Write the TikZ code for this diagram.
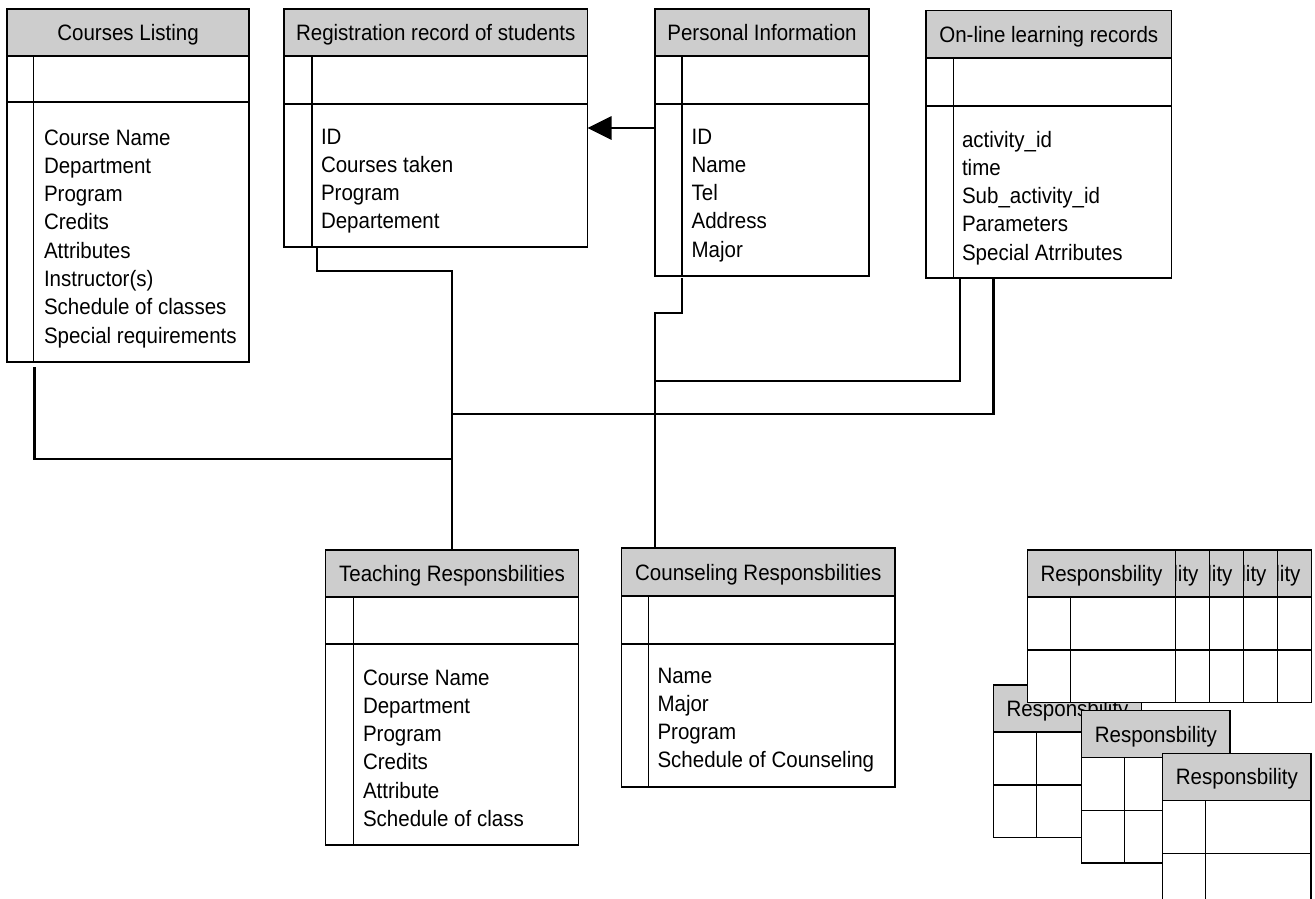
\documentclass[tikz,border=0pt]{standalone}
\usepackage{fontspec}
\setmainfont{Liberation Sans}[FakeStretch=0.92]
\usetikzlibrary{calc,arrows.meta}
\definecolor{hdrgray}{RGB}{205,205,205}
\newcommand{\fieldlist}[1]{\begin{tabular}[t]{@{}l@{}}#1\end{tabular}}
\tikzset{
  tbl/.style={draw, line width=1.3pt, fill=white, rectangle, inner sep=0pt, outer sep=0pt},
  hdr/.style={draw, line width=1.3pt, fill=hdrgray, rectangle, inner sep=0pt, outer sep=0pt, text height=16pt, text depth=0pt},
  tline/.style={line width=1.3pt},
  fields/.style={inner sep=0pt, outer sep=0pt, anchor=base west},
  conn/.style={line width=2.8pt},
}
% #1 name, #2 x, #3 y, #4 width, #5 height, #6 header height, #7 key row height, #8 inner column offset, #9 title
\newcommand{\entity}[9]{%
  \node[tbl, minimum width=#4, minimum height=#5, anchor=north west] (#1) at (#2,#3) {};
  \node[hdr, minimum width=#4, minimum height=#6, anchor=north west] (#1-h) at (#2,#3) {#9};
  \draw[tline] ($(#1-h.south west)+(0,#7)$) -- ($(#1-h.south east)+(0,#7)$);
  \draw[tline] ($(#1-h.south west)+(#8,0)$) -- ($(#1.south west)+(#8,0)$);
}
\newcommand{\resp}{\hspace*{4pt}Responsbility}
\begin{document}
\begin{tikzpicture}[x=1pt,y=-1pt,font=\fontsize{22.3}{28.3}\selectfont]
\useasboundingbox (0,0) rectangle (1315,899);

% main entities
\entity{cl}{7}{9}{242}{353}{47}{46}{26.7}{Courses Listing}
\node[fields] (cl-f) at (44,145) {\fieldlist{Course Name\\Department\\Program\\Credits\\Attributes\\Instructor(s)\\Schedule of classes\\Special requirements}};

\entity{reg}{284}{9}{303.5}{238}{47}{48}{28}{Registration record of students}
\node[fields] (reg-f) at (321,144) {\fieldlist{ID\\Courses taken\\Program\\Departement}};

\entity{pers}{655}{9}{214}{267}{47}{48}{27}{Personal Information}
\node[fields] (pers-f) at (691.6,144) {\fieldlist{ID\\Name\\Tel\\Address\\Major}};

\entity{onl}{926}{10.7}{245.6}{267.3}{47.3}{48}{27.6}{On-line learning records}
\node[fields] (onl-f) at (962,147) {\fieldlist{activity\_id\\time\\Sub\_activity\_id\\Parameters\\Special Atrributes}};

\entity{teach}{325.7}{550}{252.6}{295}{47}{47}{27.6}{Teaching Responsbilities}
\node[fields] (teach-f) at (363,685) {\fieldlist{Course Name\\Department\\Program\\Credits\\Attribute\\Schedule of class}};

\entity{couns}{621.6}{548}{273.4}{239}{48}{48}{26.8}{Counseling Responsbilities}
\node[fields] (couns-f) at (657.5,683) {\fieldlist{Name\\Major\\Program\\Schedule of Counseling}};

% stacked responsibility tables
\entity{rt2}{993.3}{685}{148.4}{152.3}{47}{53}{43}{Responsbility}
\entity{rE}{1163.3}{550}{148.4}{152.3}{47}{53}{43}{\resp}
\entity{rD}{1129.3}{550}{148.4}{152.3}{47}{53}{43}{\resp}
\entity{rC}{1095.3}{550}{148.4}{152.3}{47}{53}{43}{\resp}
\entity{rB}{1061.3}{550}{148.4}{152.3}{47}{53}{43}{\resp}
\entity{rA}{1027.3}{550}{148.4}{152.3}{47}{53}{43}{Responsbility}
\entity{rt3}{1081.7}{710.7}{148.4}{152.3}{47}{53}{43}{Responsbility}
\entity{rt4}{1162.7}{753.3}{148.4}{152.3}{47}{53}{43}{Responsbility}

% junction points
\coordinate (jcl) at (452,459);
\coordinate (jpi) at (655,381);
\coordinate (jtr) at (452,414);

% connectors
\draw[conn] ($(reg.south west)+(33,0)$) -- ++(0,24) -| (teach.north);
\draw[conn] ($(cl.south west)+(27.5,5)$) |- (jcl);
\draw[conn] ($(pers.south west)+(27,2)$) -- ++(0,35) -| ($(couns.north west)+(33.4,0)$);
\draw[conn] ($(onl.south west)+(34,0)$) |- (jpi);
\draw[conn] ($(onl.south west)+(67.5,0)$) |- (jtr);
\draw[conn,-{Triangle[length=24pt,width=23pt]}] ($(pers.north west)+(0,119)$) -- ($(reg.north east)+(0,119)$);
\end{tikzpicture}
\end{document}
